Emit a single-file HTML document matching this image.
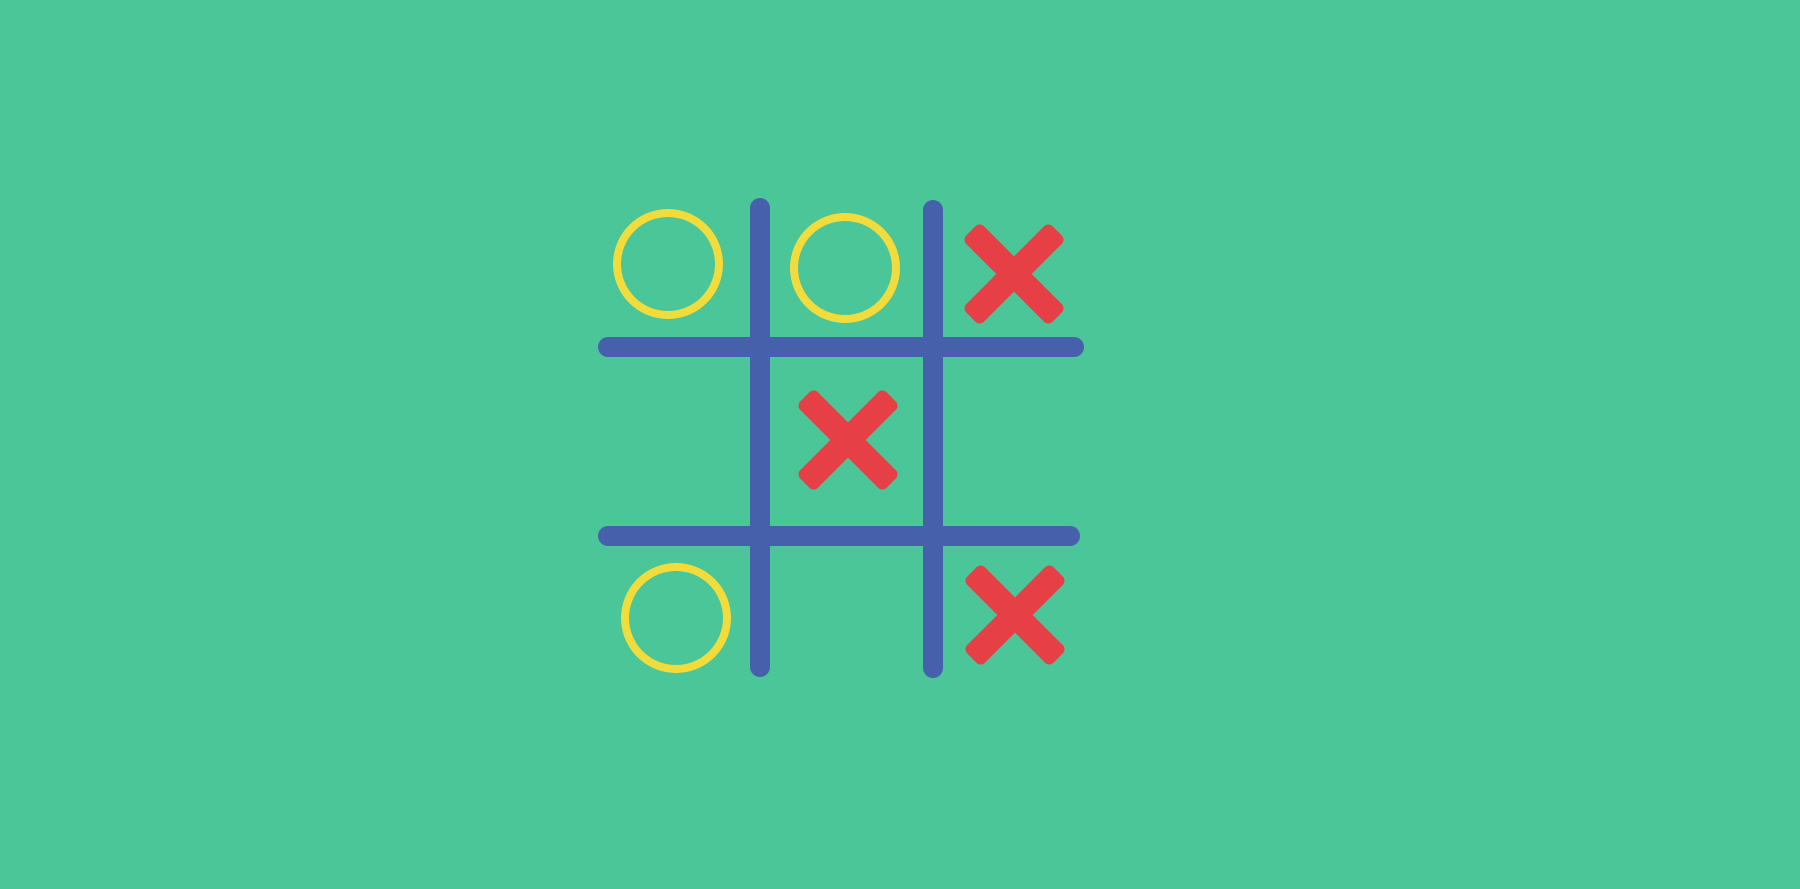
<!DOCTYPE html>
<html><head><meta charset="utf-8"><style>
html,body{margin:0;padding:0;background:#4ac699;overflow:hidden;}
svg{display:block}
</style></head><body>
<svg width="1800" height="889" viewBox="0 0 1800 889" xmlns="http://www.w3.org/2000/svg">
<rect width="1800" height="889" fill="#4ac699"/>
<g stroke="#4760ab" stroke-width="20" stroke-linecap="round">
<line x1="760" y1="208" x2="760" y2="667"/>
<line x1="933" y1="210" x2="933" y2="668"/>
<line x1="608" y1="347" x2="1074" y2="347"/>
<line x1="608" y1="536" x2="1070" y2="536"/>
</g>
<g fill="none" stroke="#f2dc3c" stroke-width="8">
<circle cx="668" cy="264" r="51"/>
<circle cx="845" cy="268" r="51"/>
<circle cx="676" cy="618" r="51"/>
</g>
<g fill="#e63f46">
<g transform="translate(1014,274)">
<rect x="-61" y="-12.5" width="122" height="25" rx="6" transform="rotate(45)"/>
<rect x="-61" y="-12.5" width="122" height="25" rx="6" transform="rotate(-45)"/>
</g>
<g transform="translate(848,440)">
<rect x="-61" y="-12.5" width="122" height="25" rx="6" transform="rotate(45)"/>
<rect x="-61" y="-12.5" width="122" height="25" rx="6" transform="rotate(-45)"/>
</g>
<g transform="translate(1015,615)">
<rect x="-61" y="-12.5" width="122" height="25" rx="6" transform="rotate(45)"/>
<rect x="-61" y="-12.5" width="122" height="25" rx="6" transform="rotate(-45)"/>
</g>
</g>
</svg>
</body></html>
